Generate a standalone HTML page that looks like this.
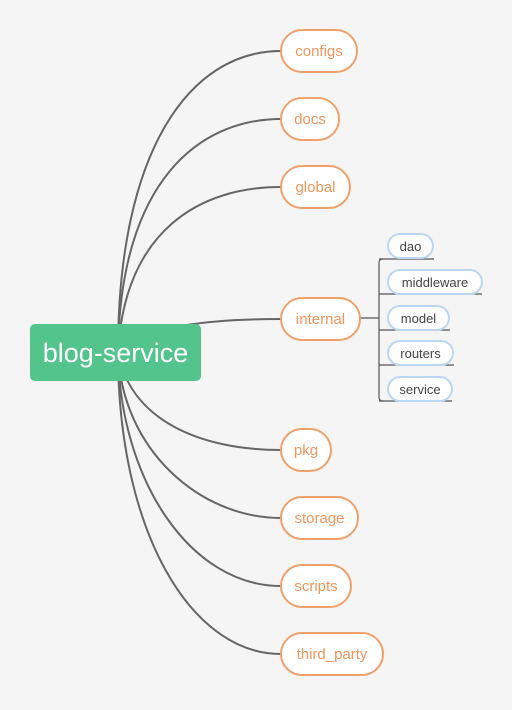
<!DOCTYPE html>
<html><head><style>
body{margin:0;background:#f5f5f5;width:512px;height:705px;overflow:hidden;font-family:"Liberation Sans",sans-serif;}
</style></head><body>
<svg width="512" height="705" xmlns="http://www.w3.org/2000/svg">
<g fill="none" stroke="#666" stroke-width="2">
<path d="M118,352 C118,150 190,51 281,51"/>
<path d="M118,352 C120,180 200,119 281,119"/>
<path d="M118,352 C125,230 200,187 281,187"/>
<path d="M118,352 C150,325 210,319 281,319"/>
<path d="M118,352 C130,420 200,450 281,450"/>
<path d="M118,352 C122,450 200,518 281,518"/>
<path d="M118,352 C120,480 190,586 281,586"/>
<path d="M118,352 C118,530 190,654 281,654"/>
</g>
<g fill="none" stroke="#555" stroke-width="1.2">
<path d="M360,318 H379"/>
<path d="M383,259 Q379,259 379,263 V397 Q379,401 383,401"/>
<path d="M379,259 H434 M379,294 H482 M379,330 H450 M379,365 H454 M379,401 H452"/>
</g>
<rect x="30" y="324" width="171" height="57" rx="5" fill="#52c48c"/>
<text x="115.5" y="362" font-size="27" fill="#fff" text-anchor="middle">blog-service</text>
<g fill="#fff" stroke="#f0a06a" stroke-width="2">
<rect x="281" y="30" width="76" height="42" rx="21"/>
<rect x="281" y="98" width="58" height="42" rx="21"/>
<rect x="281" y="166" width="69" height="42" rx="21"/>
<rect x="281" y="298" width="79" height="42" rx="21"/>
<rect x="281" y="429" width="50" height="42" rx="21"/>
<rect x="281" y="497" width="77" height="42" rx="21"/>
<rect x="281" y="565" width="70" height="42" rx="21"/>
<rect x="281" y="633" width="102" height="42" rx="21"/>
</g>
<g fill="#f0965c" font-size="15" text-anchor="middle">
<text x="319" y="56">configs</text>
<text x="310" y="124">docs</text>
<text x="315.5" y="192">global</text>
<text x="320.5" y="324">internal</text>
<text x="306" y="455">pkg</text>
<text x="319.5" y="523">storage</text>
<text x="316" y="591">scripts</text>
<text x="332" y="659">third_party</text>
</g>
<g fill="#fff" stroke="#bcd6f5" stroke-width="2">
<rect x="388" y="234" width="45" height="24" rx="12"/>
<rect x="388" y="270" width="94" height="24" rx="12"/>
<rect x="388" y="306" width="61" height="24" rx="12"/>
<rect x="388" y="341" width="65" height="24" rx="12"/>
<rect x="388" y="377" width="64" height="24" rx="12"/>
</g>
<g fill="#444" font-size="13" text-anchor="middle">
<text x="410.5" y="251">dao</text>
<text x="435" y="287">middleware</text>
<text x="418.5" y="323">model</text>
<text x="420.5" y="358">routers</text>
<text x="420" y="394">service</text>
</g>
</svg>
</body></html>
